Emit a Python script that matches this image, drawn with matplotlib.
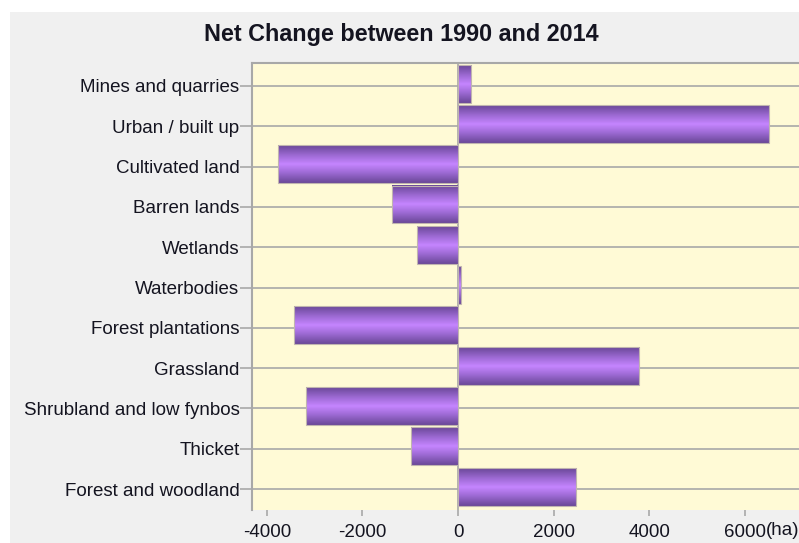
import numpy as np
import matplotlib.pyplot as plt
from matplotlib.colors import LinearSegmentedColormap
from matplotlib.patches import Rectangle

plt.rcParams['font.family'] = ['Liberation Sans', 'DejaVu Sans']

# land cover classes, bottom to top
categories = ['Forest and woodland', 'Thicket', 'Shrubland and low fynbos',
              'Grassland', 'Forest plantations', 'Waterbodies', 'Wetlands',
              'Barren lands', 'Cultivated land', 'Urban / built up',
              'Mines and quarries']
# net change 1990-2014 (ha)
net_change = [2470, -980, -3180, 3790, -3430, 60, -860, -1380, -3760, 6500, 280]

xticks = [-4000, -2000, 0, 2000, 4000, 6000]
xtick_labels = ['-4000', '-2000', '0', '2000', '4000', '6000']

fs = 13.5
txt_color = '#141420'

fig = plt.figure(figsize=(7.99, 5.43), dpi=100)
fig.patch.set_facecolor('white')
fig.patches.append(Rectangle((10 / 799, 0), 1, 1 - 12 / 543,
                             transform=fig.transFigure, facecolor='#f0f0f0',
                             edgecolor='none', zorder=-10))

ax = fig.add_axes([252 / 799, 33 / 543, 1 - 252 / 799, 480 / 543 - 33 / 543])
ax.set_facecolor('#fffad6')

# horizontal grid at each category and the zero line
for i in range(len(categories)):
    ax.axhline(i, color='#a8a8a8', lw=1.2, zorder=1)
ax.axvline(0, color='#a8a8a8', lw=1.2, zorder=1)

# bars with a vertical light-to-dark shading
cmap = LinearSegmentedColormap.from_list(
    'bar', ['#6a4898', '#9a68d0', '#c585ff', '#9a68d0', '#6a4898'])
grad = np.linspace(0, 1, 64).reshape(-1, 1)
h = 0.94
for i, v in enumerate(net_change):
    x0, x1 = min(0, v), max(0, v)
    y0, y1 = i + 0.06 - h / 2, i + 0.06 + h / 2
    ax.imshow(grad, extent=(x0, x1, y0, y1), cmap=cmap, aspect='auto',
              interpolation='bilinear', zorder=2)
    ax.add_patch(Rectangle((x0, y0), x1 - x0, h, facecolor='none',
                           edgecolor='#c0b4b0', lw=0.8, zorder=3))
ax.set_xlim(-4310, 7130)
ax.set_ylim(-0.52, 10.57)

ax.set_yticks(range(len(categories)))
ax.set_yticklabels(categories)
ax.set_xticks(xticks)
ax.set_xticklabels(xtick_labels)
ax.tick_params(axis='y', length=9, width=1.2, color='#a8a8a8', pad=0,
               labelsize=fs, labelcolor=txt_color)
ax.tick_params(axis='x', length=4, width=1.2, color='#a8a8a8', pad=6,
               labelsize=fs, labelcolor=txt_color)

for side in ['right', 'bottom']:
    ax.spines[side].set_visible(False)
for side in ['left', 'top']:
    ax.spines[side].set_color('#a8a8a8')
    ax.spines[side].set_linewidth(1.5)

# unit after the last tick label
ax.annotate('(ha)', xy=(6000, 0), xycoords=('data', 'axes fraction'),
            xytext=(15, -14.5), textcoords='offset points', ha='left',
            va='center', fontsize=fs, color=txt_color)

fig.text(401 / 799, 1 - 35 / 543, 'Net Change between 1990 and 2014',
         ha='center', va='center', fontsize=16.8, fontweight='bold',
         color=txt_color)

fig.savefig('out.png', dpi=100)
